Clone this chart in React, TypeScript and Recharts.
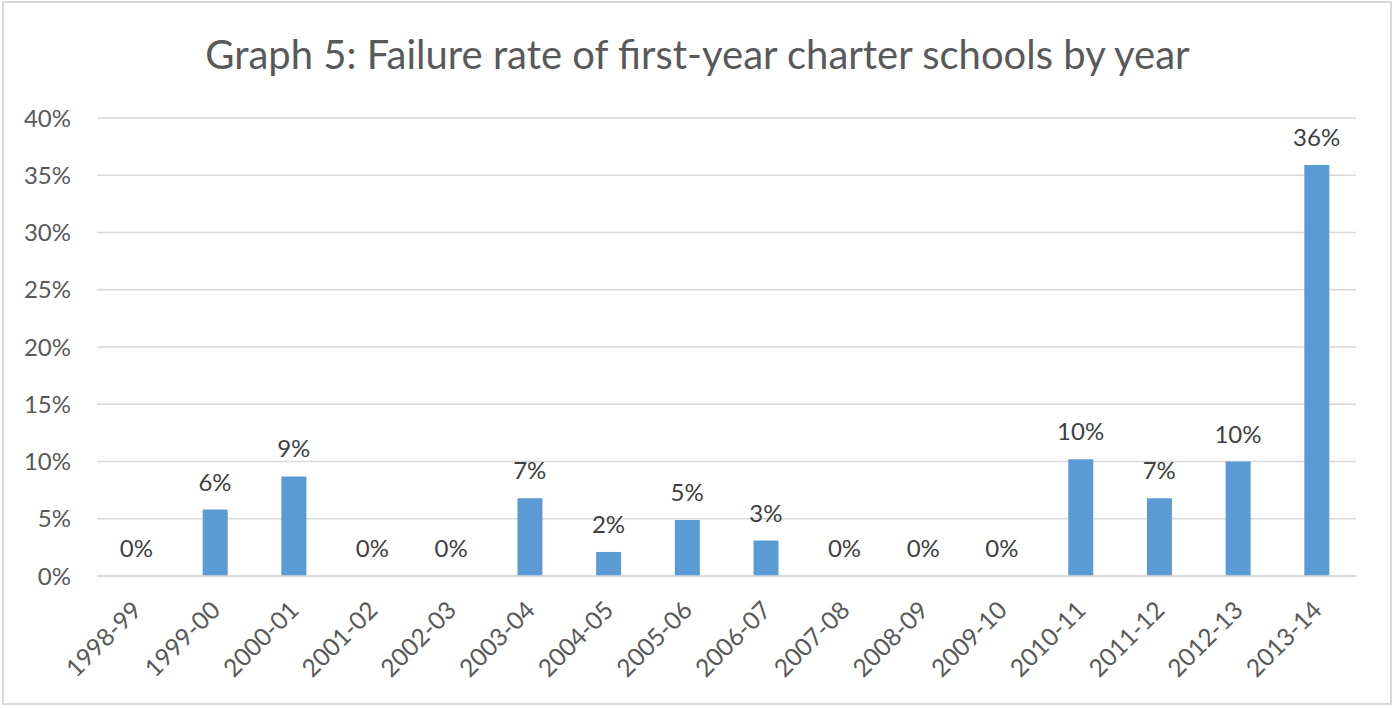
import React from "react";
import { ComposedChart, Bar, Line, XAxis, YAxis, CartesianGrid, LabelList } from "recharts";

const categories = [
  "1998-99", "1999-00", "2000-01", "2001-02", "2002-03", "2003-04", "2004-05", "2005-06",
  "2006-07", "2007-08", "2008-09", "2009-10", "2010-11", "2011-12", "2012-13", "2013-14",
];
const failureRates = [0, 5.8, 8.7, 0, 0, 6.8, 2.1, 4.9, 3.1, 0, 0, 0, 10.2, 6.8, 10.0, 35.9];
const yTicks = [0, 5, 10, 15, 20, 25, 30, 35, 40];
const title = "Graph 5: Failure rate of first-year charter schools by year";

const data = categories.map((c, i) => ({ year: c, rate: failureRates[i] }));

const FONT = "Lato, 'Open Sans', sans-serif";

const XTick = (props: any) => {
  const { x, y, payload } = props;
  return (
    <g transform={`translate(${x + 1},${y + 22}) rotate(-45)`}>
      <text x={0} y={0} dy={8} textAnchor="end" fill="#595959" fontSize={24.5} fontFamily={FONT}>
        {payload.value}
      </text>
    </g>
  );
};

export default function App() {
  return (
    <div style={{ position: "absolute", left: 0, top: 0, width: 1395, height: 708, background: "#fff", fontFamily: FONT }}>
      <div
        style={{
          position: "absolute",
          left: 2,
          top: 1,
          width: 1386,
          height: 700,
          border: "2px solid #d9d9d9",
        }}
      />
      <div
        style={{
          position: "absolute",
          left: 0,
          top: 30,
          width: 1395,
          textAlign: "center",
          fontSize: 40,
          color: "#595959",
          fontFamily: FONT,
          lineHeight: "48px",
        }}
      >
        {title}
      </div>
      <div style={{ position: "absolute", left: 0, top: 0 }}>
        <ComposedChart
          width={1395}
          height={708}
          data={data}
          margin={{ top: 118, right: 39, bottom: 32, left: 0 }}
        >
          <CartesianGrid vertical={false} stroke="#d9d9d9" strokeWidth={1.5} />
          <XAxis
            dataKey="year"
            interval={0}
            height={100}
            tickLine={false}
            axisLine={{ stroke: "#d9d9d9", strokeWidth: 1.5 }}
            tick={<XTick />}
          />
          <YAxis
            width={97}
            domain={[0, 40]}
            ticks={yTicks}
            tickFormatter={(v: number) => `${v}%`}
            tickLine={false}
            axisLine={false}
            tickMargin={20}
            tick={{ fill: "#595959", fontSize: 24, fontFamily: FONT }}
          />
          <Bar dataKey="rate" fill="#5b9bd5" barSize={25} isAnimationActive={false} />
          <Line
            dataKey="rate"
            stroke="none"
            dot={false}
            activeDot={false}
            legendType="none"
            isAnimationActive={false}
          >
            <LabelList
              dataKey="rate"
              position="top"
              offset={19}
              formatter={(v: any) => `${Math.round(Number(v))}%`}
              fill="#404040"
              fontSize={24}
              fontFamily={FONT}
            />
          </Line>
        </ComposedChart>
      </div>
    </div>
  );
}
